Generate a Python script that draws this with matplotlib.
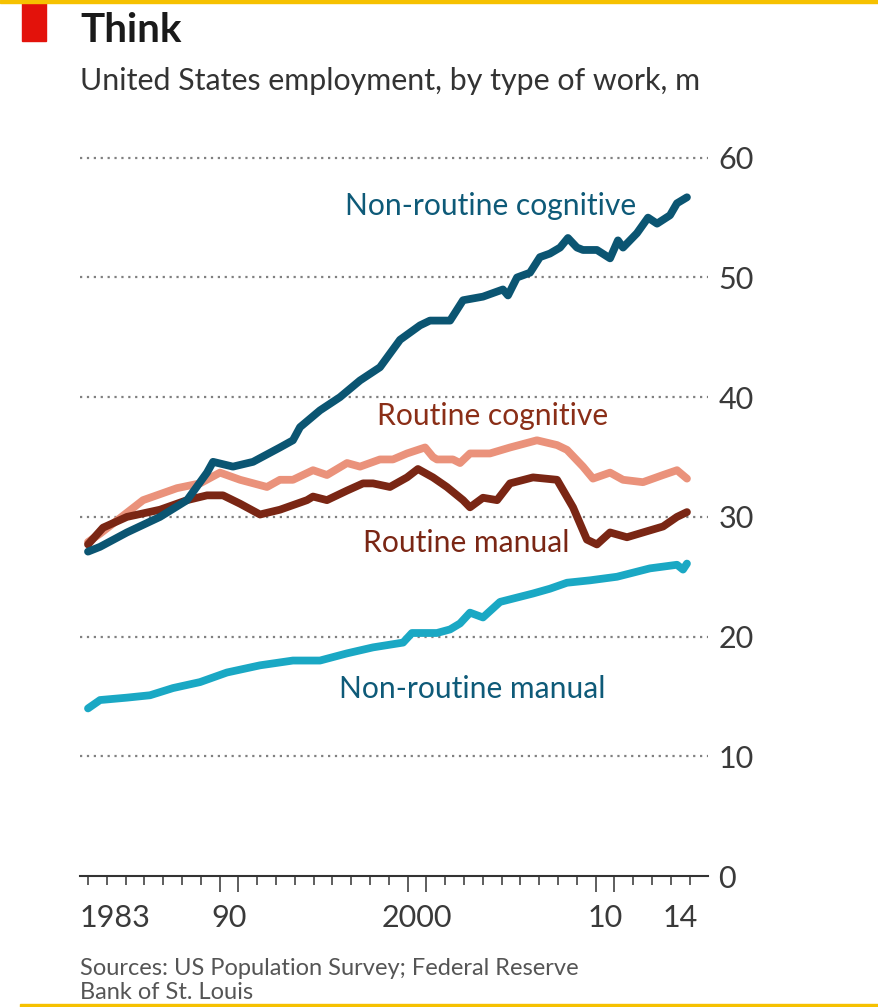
import matplotlib
matplotlib.use("Agg")
import matplotlib.pyplot as plt
from matplotlib.patches import Rectangle

plt.rcParams['font.family'] = ['Lato', 'DejaVu Sans']

# ---- data, years as decimal, values in millions ----
nrc_year = [1983.00, 1983.64, 1985.07, 1986.83, 1988.27, 1989.33, 1989.65, 1990.71,
            1991.78, 1993.21, 1993.90, 1994.28, 1995.34, 1996.40, 1997.47, 1998.53,
            1999.60, 2000.66, 2001.19, 2002.26, 2002.95, 2004.01, 2005.07, 2005.34,
            2005.82, 2006.51, 2007.04, 2007.57, 2008.11, 2008.53, 2009.01, 2009.33,
            2010.07, 2010.77, 2011.19, 2011.46, 2012.20, 2012.79, 2013.27, 2013.96,
            2014.33, 2014.86]
nrc_val = [27.1, 27.5, 28.7, 30.0, 31.4, 33.7, 34.6, 34.2,
           34.6, 35.8, 36.4, 37.5, 38.9, 40.0, 41.4, 42.5,
           44.8, 46.0, 46.4, 46.4, 48.1, 48.4, 49.0, 48.5,
           50.0, 50.4, 51.7, 52.0, 52.5, 53.3, 52.5, 52.3,
           52.3, 51.6, 53.1, 52.5, 53.7, 55.0, 54.5, 55.2,
           56.2, 56.7]

rc_year = [1983.00, 1983.64, 1985.93, 1987.73, 1988.96, 1990.02, 1991.09, 1992.52,
           1993.21, 1993.90, 1994.97, 1995.71, 1996.78, 1997.47, 1998.53, 1999.22,
           1999.97, 2000.93, 2001.35, 2001.56, 2002.41, 2002.79, 2003.32, 2004.38,
           2005.45, 2006.88, 2007.95, 2008.48, 2009.33, 2009.86, 2010.77, 2011.46,
           2012.52, 2013.59, 2014.33, 2014.86]
rc_val = [27.9, 28.6, 31.4, 32.4, 32.8, 33.7, 33.1, 32.5,
          33.1, 33.1, 33.9, 33.5, 34.5, 34.2, 34.8, 34.8,
          35.3, 35.8, 35.0, 34.8, 34.8, 34.5, 35.3, 35.3,
          35.8, 36.4, 36.0, 35.6, 34.2, 33.2, 33.7, 33.1,
          32.9, 33.5, 33.9, 33.2]

rm_year = [1983.00, 1983.80, 1985.07, 1986.83, 1988.27, 1989.33, 1990.18, 1991.09,
           1992.15, 1993.21, 1994.65, 1994.97, 1995.71, 1996.78, 1997.63, 1998.16,
           1999.06, 1999.97, 2000.55, 2001.35, 2002.09, 2002.95, 2003.32, 2004.01,
           2004.76, 2005.45, 2006.67, 2007.95, 2008.80, 2009.54, 2010.07, 2010.77,
           2011.67, 2012.52, 2013.59, 2014.33, 2014.86]
rm_val = [27.7, 29.1, 30.0, 30.6, 31.4, 31.8, 31.8, 31.1,
          30.2, 30.6, 31.4, 31.7, 31.4, 32.2, 32.8, 32.8,
          32.5, 33.3, 34.0, 33.3, 32.5, 31.4, 30.8, 31.6,
          31.4, 32.8, 33.3, 33.1, 30.8, 28.1, 27.7, 28.7,
          28.3, 28.7, 29.2, 30.0, 30.4]

nrm_year = [1983.00, 1983.64, 1985.07, 1986.30, 1987.52, 1988.96, 1990.39, 1992.15,
            1993.90, 1995.34, 1996.78, 1998.16, 1999.76, 2000.23, 2001.56, 2002.26,
            2002.79, 2003.32, 2004.01, 2004.92, 2006.67, 2007.57, 2008.48, 2009.70,
            2011.14, 2012.89, 2014.33, 2014.65, 2014.86]
nrm_val = [14.0, 14.7, 14.9, 15.1, 15.7, 16.2, 17.0, 17.6,
           18.0, 18.0, 18.6, 19.1, 19.5, 20.3, 20.3, 20.6,
           21.1, 22.0, 21.6, 22.9, 23.6, 24.0, 24.5, 24.7,
           25.0, 25.7, 26.0, 25.6, 26.1]

y_ticks = [0, 10, 20, 30, 40, 50, 60]
year_ticks = list(range(1983, 2016))
long_ticks = [1990, 1991, 2000, 2001, 2010, 2011]
year_labels = ["1983", "90", "2000", "10", "14"]
year_label_pos = [1982.57, 1990.5, 2000.5, 2010.5, 2014.5]

W, H = 879, 1007
fig = plt.figure(figsize=(W / 100, H / 100), dpi=100)
fig.patch.set_facecolor('white')

def fx(x):
    return x / W

def fy(y):
    return 1 - y / H

# axes: x 80..708 px, y value 0 at 876 px, 11.97 px per unit
top_val = 61
ax = fig.add_axes([fx(80), fy(876), fx(708) - fx(80), top_val * 11.97 / H])
ax.set_xlim(1982.574, 2015.98)
ax.set_ylim(0, top_val)

for s in ['top', 'left', 'right']:
    ax.spines[s].set_visible(False)
ax.spines['bottom'].set_color('#333333')
ax.spines['bottom'].set_linewidth(1.5)

# dotted horizontal gridlines
for v in y_ticks[1:]:
    ax.axhline(v, color='#808080', lw=1.6, linestyle=(0, (1, 2.1)), zorder=1)

ax.yaxis.tick_right()
ax.set_yticks(y_ticks)
ax.set_yticklabels([str(v) for v in y_ticks])
ax.tick_params(axis='y', length=0, pad=7.5, labelsize=22, labelcolor='#3a3a3a')

ax.set_xticks(long_ticks)
ax.set_xticks([y for y in year_ticks if y not in long_ticks], minor=True)
ax.set_xticklabels([])
ax.tick_params(axis='x', which='major', direction='out', length=11.5, width=1.1, color='#333333')
ax.tick_params(axis='x', which='minor', direction='out', length=6.5, width=1.1, color='#333333')

for lab, pos in zip(year_labels, year_label_pos):
    ax.annotate(lab, xy=(pos, 0), xycoords=('data', 'axes fraction'),
                xytext=(0, -37), textcoords='offset points',
                ha='left' if lab == "1983" else 'center', va='baseline',
                fontsize=22, color='#3a3a3a', annotation_clip=False)

kw = dict(lw=5.6, solid_joinstyle='round', solid_capstyle='round', zorder=3)
ax.plot(nrm_year, nrm_val, color='#1aa8c4', **kw)
ax.plot(rc_year, rc_val, color='#ea927b', **kw)
ax.plot(rm_year, rm_val, color='#7a2614', **kw)
ax.plot(nrc_year, nrc_val, color='#0b5572', **kw)

# series labels
fig.text(fx(345), fy(215), "Non-routine cognitive", fontsize=21.6, color='#0e5a78', va='baseline')
fig.text(fx(377), fy(425), "Routine cognitive", fontsize=21.6, color='#8a2e17', va='baseline')
fig.text(fx(363), fy(552), "Routine manual", fontsize=21.6, color='#7a2614', va='baseline')
fig.text(fx(339), fy(698), "Non-routine manual", fontsize=21.6, color='#0e5a78', va='baseline')

# title block
fig.text(fx(80), fy(42), "Think", fontsize=29, fontweight='bold', color='#1a1a1a', va='baseline')
fig.text(fx(80), fy(90), "United States employment, by type of work, m", fontsize=21.9,
         color='#333333', va='baseline')
fig.patches.append(Rectangle((fx(22), fy(41)), fx(24), 38 / H, transform=fig.transFigure,
                             color='#e3120b', zorder=5))

fig.text(fx(80), fy(975), "Sources: US Population Survey; Federal Reserve", fontsize=17,
         color='#555555', va='baseline')
fig.text(fx(80), fy(999), "Bank of St. Louis", fontsize=17, color='#555555', va='baseline')

# yellow rules top and bottom
fig.patches.append(Rectangle((0, fy(2.5)), 1, 2.5 / H, transform=fig.transFigure,
                             color='#f6c100', zorder=10))
fig.patches.append(Rectangle((fx(20), 0), 1, 3 / H, transform=fig.transFigure,
                             color='#f6c100', zorder=10))

fig.savefig("out.png", dpi=100)
